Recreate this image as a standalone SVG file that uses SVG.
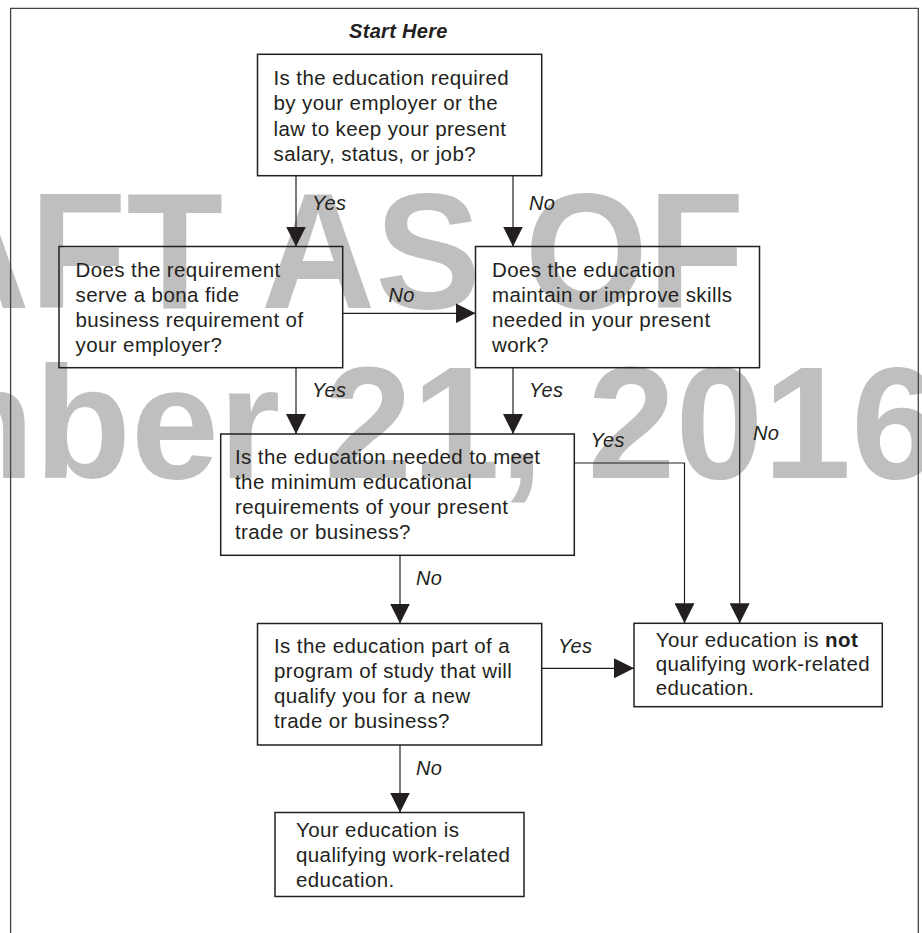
<svg xmlns="http://www.w3.org/2000/svg" width="922" height="933" viewBox="0 0 922 933">
<defs>
<style>
.t{font-family:"Liberation Sans",Arial,Helvetica,sans-serif;font-size:20.5px;letter-spacing:0.4px;fill:#231f20}
.lbl{font-family:"Liberation Sans",Arial,Helvetica,sans-serif;font-size:20px;font-style:italic;letter-spacing:0.3px;fill:#231f20}
.wm{font-family:"Liberation Sans",Arial,Helvetica,sans-serif;font-weight:bold;fill:#bfbfbf}
.box{fill:none;stroke:#231f20;stroke-width:1.5}
.conn{fill:none;stroke:#231f20;stroke-width:1.2;marker-end:url(#arr)}
.frame{fill:none;stroke:#444;stroke-width:1.3}
</style>
<marker id="arr" viewBox="0 0 20 20" markerWidth="20" markerHeight="20" refX="20" refY="10" orient="auto" markerUnits="userSpaceOnUse">
<path d="M0,0 L20,10 L0,20 Z" fill="#231f20"/>
</marker>
</defs>
<rect x="0" y="0" width="922" height="933" fill="#ffffff"/>
<g id="watermark">
<text class="wm" x="-84.5" y="308" font-size="166" textLength="829" lengthAdjust="spacingAndGlyphs">AFT AS OF</text>
<text class="wm" x="-106" y="478" font-size="160" textLength="1045" lengthAdjust="spacingAndGlyphs">mber 21, 2016</text>
</g>
<path class="frame" d="M10.6,933 V8.3 H918.3 V933"/>
<text class="lbl" x="398.4" y="38.3" text-anchor="middle" font-weight="bold">Start Here</text>
<g id="connectors">
<path class="conn" d="M296,176 V246.5"/>
<path class="conn" d="M513,176 V246.5"/>
<path class="conn" d="M343,313.3 H475.5"/>
<path class="conn" d="M296,368 V434"/>
<path class="conn" d="M513,368 V434"/>
<path class="conn" d="M574.3,463 H684.5 V623.3"/>
<path class="conn" d="M739.7,368 V623.3"/>
<path class="conn" d="M400,555.3 V623.5"/>
<path class="conn" d="M541.8,668.3 H634"/>
<path class="conn" d="M400,745 V812.5"/>
<text class="lbl" x="312" y="210">Yes</text>
<text class="lbl" x="529" y="210">No</text>
<text class="lbl" x="388.5" y="301.7">No</text>
<text class="lbl" x="312" y="396.7">Yes</text>
<text class="lbl" x="529" y="396.7">Yes</text>
<text class="lbl" x="590.5" y="446.7">Yes</text>
<text class="lbl" x="753" y="440">No</text>
<text class="lbl" x="416" y="585">No</text>
<text class="lbl" x="558" y="653.3">Yes</text>
<text class="lbl" x="416" y="775">No</text>
</g>
<g id="q1">
<rect class="box" x="257.5" y="54.3" width="284.2" height="121.4"/>
<text class="t" x="273.5" y="85">Is the education required</text>
<text class="t" x="273.5" y="110.3">by your employer or the</text>
<text class="t" x="273.5" y="135.5">law to keep your present</text>
<text class="t" x="273.5" y="160.5">salary, status, or job?</text>
</g>
<g id="q2">
<rect class="box" x="59" y="246.5" width="283.7" height="121.2"/>
<text class="t" x="75.5" y="276.7">Does the requirement</text>
<text class="t" x="75.5" y="301.7">serve a bona fide</text>
<text class="t" x="75.5" y="326.7">business requirement of</text>
<text class="t" x="75.5" y="351.7">your employer?</text>
</g>
<g id="q3">
<rect class="box" x="475.5" y="246.5" width="284" height="121.2"/>
<text class="t" x="492" y="276.7">Does the education</text>
<text class="t" x="492" y="301.7">maintain or improve skills</text>
<text class="t" x="492" y="326.7">needed in your present</text>
<text class="t" x="492" y="351.7">work?</text>
</g>
<g id="q4">
<rect class="box" x="220.7" y="434" width="353.6" height="121.3"/>
<text class="t" x="235" y="463.8">Is the education needed to meet</text>
<text class="t" x="235" y="488.8">the minimum educational</text>
<text class="t" x="235" y="513.8">requirements of your present</text>
<text class="t" x="235" y="538.8">trade or business?</text>
</g>
<g id="q5">
<rect class="box" x="257.5" y="623.5" width="284.2" height="121.5"/>
<text class="t" x="274" y="653.3">Is the education part of a</text>
<text class="t" x="274" y="678.3">program of study that will</text>
<text class="t" x="274" y="703.3">qualify you for a new</text>
<text class="t" x="274" y="728.3">trade or business?</text>
</g>
<g id="notQualifying">
<rect class="box" x="634" y="623.3" width="248.3" height="83.4"/>
<text class="t" x="655.7" y="646.7">Your education is <tspan font-weight="bold">not</tspan></text>
<text class="t" x="655.7" y="671">qualifying work-related</text>
<text class="t" x="655.7" y="695.3">education.</text>
</g>
<g id="qualifying">
<rect class="box" x="275" y="812.5" width="249" height="84"/>
<text class="t" x="296" y="836.7">Your education is</text>
<text class="t" x="296" y="861.7">qualifying work-related</text>
<text class="t" x="296" y="886.7">education.</text>
</g>
</svg>
